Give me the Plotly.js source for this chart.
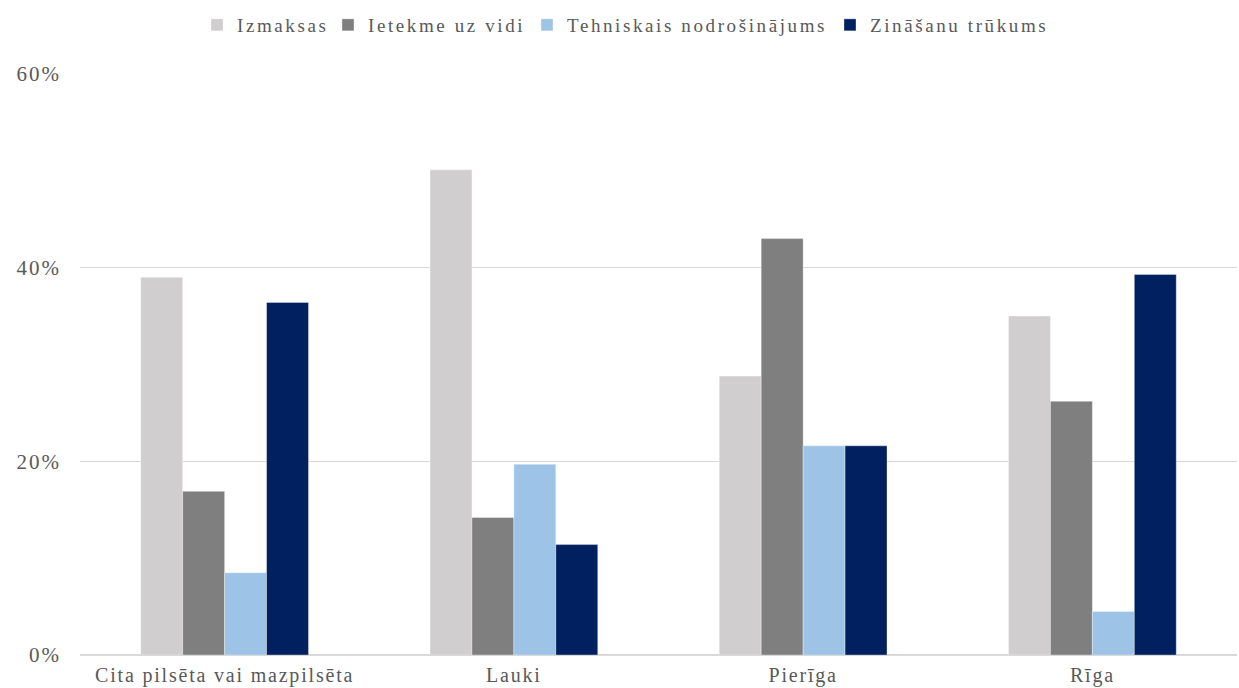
<!DOCTYPE html>
<html><head><meta charset="utf-8">
<script src="https://cdn.plot.ly/plotly-3.0.1.min.js"></script>
<style>
html,body{margin:0;padding:0;background:#fff}#chart{width:1239px;height:688px}
#chart .xtick text{letter-spacing:1.8px}
#chart .ytick text{letter-spacing:2px}
#chart .legendtext, #chart .legend2text, #chart .legend3text, #chart .legend4text{letter-spacing:2.6px}
</style>
</head><body><div id="chart"></div>
<script>
const categories = ["Cita pilsēta vai mazpilsēta", "Lauki", "Pierīga", "Rīga"];
const seriesNames = ["Izmaksas", "Ietekme uz vidi", "Tehniskais nodrošinājums", "Zināšanu trūkums"];
const izmaksas = [0.39, 0.501, 0.288, 0.35];
const ietekme = [0.169, 0.142, 0.43, 0.262];
const tehniskais = [0.085, 0.197, 0.216, 0.045];
const zinasanu = [0.364, 0.114, 0.216, 0.393];
const colors = ["#d0cece", "#7f7f7f", "#9dc3e6", "#002060"];
const values = [izmaksas, ietekme, tehniskais, zinasanu];
const font = "Liberation Serif, DejaVu Serif, serif";
const legendIds = ["legend", "legend2", "legend3", "legend4"];
const legendLeftPx = [197, 328, 527, 830];
const traces = seriesNames.map((n, i) => ({
  type: "bar", name: n, x: categories, y: values[i], legend: legendIds[i],
  marker: {color: colors[i], line: {color: "rgba(255,255,255,0.35)", width: 1}},
  hoverinfo: "none"
}));
const layout = {
  width: 1239, height: 688,
  margin: {l: 80, r: 2, t: 74, b: 33},
  paper_bgcolor: "#fff", plot_bgcolor: "#fff",
  barmode: "group", bargap: 0.42, bargroupgap: 0,
  font: {family: font, size: 18, color: "#595959"},
  showlegend: true,
  xaxis: {showgrid: false, zeroline: false, showline: false, ticks: "", ticklabelstandoff: 6,
          tickfont: {family: font, size: 20}},
  yaxis: {range: [0, 0.6], tickvals: [0, 0.2, 0.4, 0.6], tickformat: ".0%",
          showgrid: true, gridcolor: "#d9d9d9", gridwidth: 1.5, zeroline: true, zerolinecolor: "#d9d9d9",
          zerolinewidth: 1.5, ticks: "", ticklen: 0, ticklabelstandoff: 18,
          tickfont: {family: font, size: 21}}
};
legendIds.forEach((id, i) => {
  layout[id] = {orientation: "h", xref: "container", yref: "container",
    x: legendLeftPx[i] / 1239, xanchor: "left", y: 1 - 25 / 688, yanchor: "middle",
    entrywidth: 320, entrywidthmode: "pixels",
    font: {family: font, size: 19, color: "#595959"}, itemwidth: 30, bgcolor: "rgba(0,0,0,0)"};
});
Plotly.newPlot("chart", traces, layout, {displayModeBar: false, staticPlot: true});
</script></body></html>
